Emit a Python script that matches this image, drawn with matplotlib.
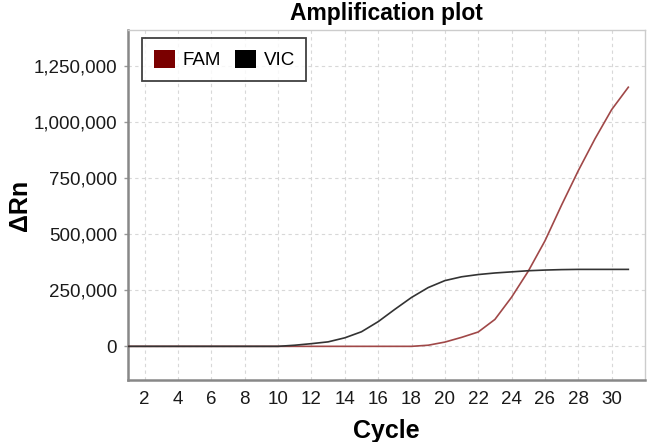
import matplotlib
matplotlib.use("Agg")
import matplotlib.pyplot as plt
from matplotlib.patches import Patch
from matplotlib.ticker import FuncFormatter

cycles = list(range(1, 32))
fam = [0, 0, 0, 0, 0, 0, 0, 0, 0, 0, 0, 0, 0, 0, 0, 0, 0, 0, 5000, 19000, 40000,
       64000, 120000, 219000, 335000, 470000, 630000, 783000, 925000, 1055000, 1155000]
vic = [0, 0, 0, 0, 0, 0, 0, 0, 0, 0, 5000, 12000, 20000, 38000, 65000, 110000,
       165000, 218000, 262000, 293000, 310000, 320000, 327000, 332000, 337000,
       340000, 342000, 343000, 343000, 343000, 343000]
series_names = ["FAM", "VIC"]
x_ticks = list(range(2, 31, 2))
y_ticks = [0, 250000, 500000, 750000, 1000000, 1250000]

plt.rcParams['font.family'] = ['Liberation Sans', 'DejaVu Sans']

fig = plt.figure(figsize=(6.49, 4.42), dpi=100)
ax = fig.add_axes([128/649, 1-380/442, (645-128)/649, (380-30)/442])

ax.plot(cycles, fam, color="#a04848", lw=1.2, zorder=3)
ax.plot(cycles, vic, color="#333333", lw=1.2, zorder=3)

ax.set_xlim(1, 32)
ax.set_ylim(-150000, 1410000)
ax.set_xticks(x_ticks)
ax.set_yticks(y_ticks)
ax.yaxis.set_major_formatter(FuncFormatter(lambda v, p: f"{int(v):,}"))
ax.tick_params(axis='x', length=0, labelsize=13.5, labelcolor="#1a1a1a", pad=8)
ax.tick_params(axis='y', length=3, width=1, color="#999999", labelsize=13.5,
               labelcolor="#1a1a1a", pad=5)

ax.grid(True, color="#d8d8d8", linestyle=(0, (3, 3)), lw=0.8)
ax.set_axisbelow(True)

for s in ['left', 'bottom']:
    ax.spines[s].set_color("#888888")
    ax.spines[s].set_linewidth(1.8)
for s in ['top', 'right']:
    ax.spines[s].set_color("#cccccc")
    ax.spines[s].set_linewidth(1.0)

ax.set_title("Amplification plot", fontsize=16.5, fontweight='bold', pad=7)
ax.set_xlabel("Cycle", fontsize=18, fontweight='bold', labelpad=8)
ax.set_ylabel("ΔRn", fontsize=18, fontweight='bold', labelpad=1)

handles = [Patch(facecolor="#7a0000", edgecolor="none"),
           Patch(facecolor="#000000", edgecolor="none")]
leg = ax.legend(handles, series_names, loc='upper left', ncol=2,
                bbox_to_anchor=(0.027, 0.977), borderaxespad=0, fontsize=13.5,
                frameon=True, fancybox=False, edgecolor="#111111",
                handlelength=1.15, handleheight=1.15, handletextpad=0.4,
                columnspacing=0.72, borderpad=0.62)
leg.get_frame().set_linewidth(1.3)

fig.savefig("out.png", dpi=100)
